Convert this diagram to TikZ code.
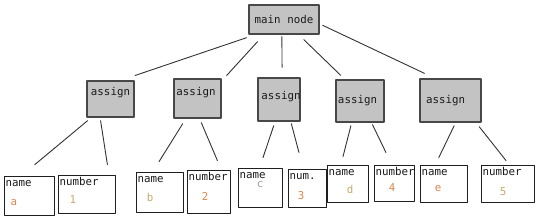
\documentclass[tikz,border=0pt]{standalone}
\usepackage{fontspec}
\setmonofont{DejaVu Sans Mono}
\definecolor{ink}{RGB}{25,25,25}
\definecolor{boxfill}{RGB}{195,195,195}
\definecolor{boxborder}{RGB}{72,72,72}
\definecolor{leafborder}{RGB}{30,30,30}
\definecolor{linkgrey}{RGB}{50,50,50}
\definecolor{valorange}{RGB}{220,135,80}
\definecolor{valtan}{RGB}{195,172,110}
\definecolor{valgrey}{RGB}{165,158,148}

\begin{document}
\begin{tikzpicture}[
    x=1pt,
    y=-1pt,
    font=\ttfamily\fontsize{10.8}{12}\selectfont,
    line cap=round,
    line join=round,
    mainbox/.style={
      draw=boxborder,
      fill=boxfill,
      line width=1.3pt,
      inner sep=0pt,
      text=ink
    },
    assignbox/.style={
      draw=boxborder,
      fill=boxfill,
      line width=1.4pt,
      inner sep=0pt
    },
    boxtext/.style={
      inner sep=0pt,
      text=ink
    },
    leafbox/.style={
      draw=leafborder,
      fill=white,
      line width=1pt,
      inner sep=0pt
    },
    field/.style={
      anchor=north west,
      inner xsep=2pt,
      inner ysep=1.5pt,
      text height=9.3pt,
      text depth=0pt,
      text=ink
    },
    value/.style={
      inner sep=0pt
    },
    link/.style={
      draw=linkgrey,
      line width=0.9pt
    }
]
\useasboundingbox (0,0) rectangle (540,223);

% Root.
\node[mainbox, minimum width=70pt, minimum height=29pt] (main)
  at (284,19.5) {main node};

% Assignment level.
\foreach \name/\cx/\cy/\w/\h/\tx/\ty in {
  as1/110.5/99/47pt/36pt/110.5/93,
  as2/197.5/98.5/47pt/39pt/196/93,
  as3/279/99.5/42pt/43pt/281/97,
  as4/360/101/48pt/42pt/357.5/101,
  as5/450.5/100.5/61pt/43pt/445.5/101%
} {
  \node[assignbox, minimum width=\w, minimum height=\h] (\name) at (\cx,\cy) {};
  \node[boxtext] (\name-t) at (\tx,\ty) {assign};
}

% Leaves: field name in the corner, value below it.
\foreach \name/\cx/\cy/\w/\h/\field/\vx/\vy/\val/\vcol in {
  la/29/195.5/50pt/39pt/name/14/203/a/valorange,
  l1/86.5/194/57pt/38pt/number/73/200/1/valtan,
  lb/159.5/192/47pt/40pt/name/150/197/b/valtan,
  l2/208.5/191.5/43pt/43pt/number/205/196/2/valorange,
  lc/260/187.5/44pt/39pt/name/260/185/c/valgrey,
  l3/307/188/38pt/38pt/num./301/196/3/valorange,
  ld/347.5/183.5/41pt/37pt/name/350/189/d/valtan,
  l4/394/183/40pt/36pt/number/392/188/4/valorange,
  le/443.5/183.5/47pt/37pt/name/438/189/e/valorange,
  l5/507.5/183.5/53pt/37pt/number/503/192/5/valtan%
} {
  \node[leafbox, minimum width=\w, minimum height=\h] (\name) at (\cx,\cy) {};
  \node[field] (\name-f) at (\name.north west) {\field};
  \node[value, text=\vcol] (\name-v) at (\vx,\vy) {\val};
}

% Edges do not quite touch the boxes.
\foreach \from/\to/\s/\e in {
  main.-152/as1.61/9.5pt/15pt,
  main.-143/as2.36/9.5pt/7.4pt,
  main.-98/as3.82/2pt/10pt,
  main.-46/as4.125/7.1pt/5.7pt,
  main.-7/as5.125/3.3pt/11.6pt,
  as1.-136/la.110/4.6pt/17pt,
  as1.-119/l1.41/3pt/10pt,
  as2.-120/lb.108/5.9pt/11.7pt,
  as2.-84/l2.60/4.3pt/9.7pt,
  as3.-100/lc.91/4.2pt/10.5pt,
  as3.-62/l3.101/2.1pt/16.6pt,
  as4.-111/ld.109/3.1pt/8.2pt,
  as4.-62/l4.97/2.2pt/13.3pt,
  as5.-77/le.113/3.3pt/7.7pt,
  as5.-41/l5.85/5.1pt/5.1pt%
} {
  \draw[link, shorten <=\s, shorten >=\e] (\from) -- (\to);
}

\end{tikzpicture}
\end{document}
